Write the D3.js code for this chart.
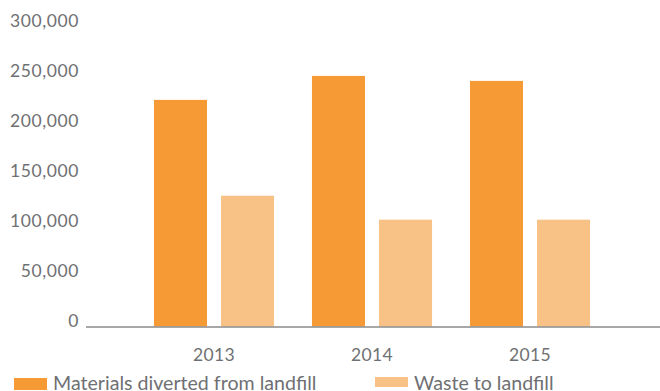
<!DOCTYPE html>
<html>
<head>
<meta charset="utf-8">
<script src="https://cdn.jsdelivr.net/npm/d3@7"></script>
<style>
  html, body { margin: 0; padding: 0; background: #fff; }
  svg { display: block; }
  text { font-family: Lato, "Open Sans", sans-serif; fill: #6f7073; }
</style>
</head>
<body>
<svg id="chart" width="660" height="391"></svg>
<script>
// Tonnes of material per year
const years = ["2013", "2014", "2015"];
const seriesNames = ["Materials diverted from landfill", "Waste to landfill"];
const diverted = [227000, 251000, 246000];
const landfill = [131000, 107000, 107000];
const yTicks = [0, 50000, 100000, 150000, 200000, 250000, 300000];

const colors = ["#f59a35", "#f8c286"];
const seriesValues = [diverted, landfill];

const svg = d3.select("#chart");

const x = d3.scaleBand().domain(years).range([135, 609])
  .paddingInner(0.24).paddingOuter(0.12);
const xSub = d3.scaleBand().domain(d3.range(seriesNames.length))
  .range([0, x.bandwidth()]).paddingInner(0.209);
const y = d3.scaleLinear().domain([0, 300000]).range([326.5, 27]);

// value axis labels (no line), text baseline sits on the value
const fmt = d3.format(",");
svg.append("g").selectAll("text").data(yTicks).join("text")
  .attr("x", 79)
  .attr("y", d => y(d))
  .attr("text-anchor", "end")
  .style("font-size", "17.5px")
  .style("letter-spacing", "0.6px")
  .text(d => fmt(d));

// bars
const groups = svg.append("g").selectAll("g").data(years).join("g")
  .attr("transform", d => `translate(${x(d)},0)`);
groups.selectAll("rect")
  .data((d, i) => seriesValues.map((vals, s) => ({ s, v: vals[i] })))
  .join("rect")
  .attr("x", d => xSub(d.s))
  .attr("width", xSub.bandwidth())
  .attr("y", d => y(d.v))
  .attr("height", d => y(0) - y(d.v))
  .attr("fill", d => colors[d.s]);

// baseline
svg.append("line")
  .attr("x1", 86).attr("x2", 660)
  .attr("y1", y(0) + 0.5).attr("y2", y(0) + 0.5)
  .attr("stroke", "#8a8a8a").attr("stroke-width", 1.5);

// category axis
const xAxis = svg.append("g")
  .attr("transform", `translate(0,${y(0)})`)
  .call(d3.axisBottom(x).tickSize(0).tickPadding(22));
xAxis.select(".domain").remove();
xAxis.selectAll("text")
  .style("font-size", "17.5px")
  .style("font-family", "Lato, 'Open Sans', sans-serif")
  .style("letter-spacing", "0.3px")
  .attr("fill", "#6f7073");

// legend
const legendX = [14, 375];
const legend = svg.append("g").selectAll("g").data(seriesNames).join("g")
  .attr("transform", (d, i) => `translate(${legendX[i]},0)`);
legend.append("rect")
  .attr("x", 0).attr("y", (d, i) => i === 0 ? 378 : 377)
  .attr("width", 33).attr("height", (d, i) => i === 0 ? 12 : 10)
  .attr("fill", (d, i) => colors[i]);
legend.append("text")
  .attr("x", 39).attr("y", 389.5)
  .style("font-size", "19.6px")
  .text(d => d);
</script>
</body>
</html>
